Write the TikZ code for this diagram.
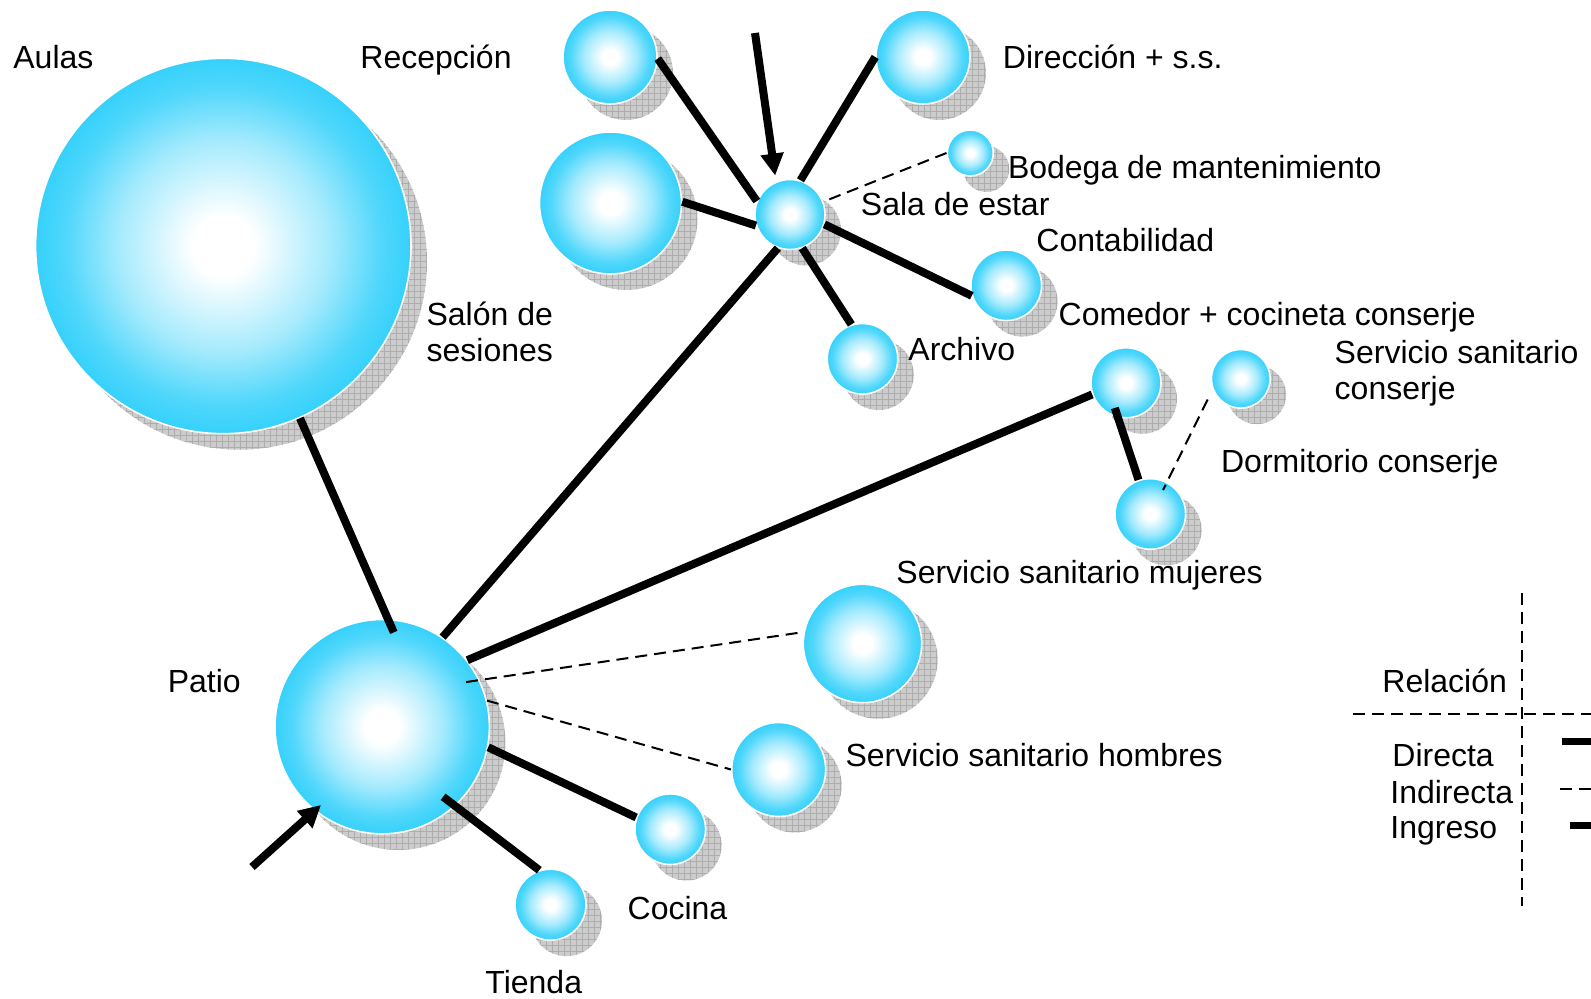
\documentclass[tikz,border=0pt]{standalone}
\usepackage{fontspec}
\setmainfont{Liberation Sans}
\usetikzlibrary{arrows.meta, calc, patterns}
\definecolor{ballcyan}{RGB}{32,204,250}
\pgfdeclareradialshading{sphere}{\pgfpoint{0bp}{0bp}}{color(0bp)=(white); color(4bp)=(white); color(14bp)=(ballcyan!40!white); color(21bp)=(ballcyan!78!white); color(28bp)=(ballcyan); color(50bp)=(ballcyan)}

\begin{document}
\begin{tikzpicture}[
  x=0.5pt, y=-0.5pt,
  >={Triangle[length=11pt, width=11pt]},
  font=\fontsize{16}{18.25}\selectfont,
  ball/.style={circle, shade, shading=sphere, draw=white, line width=0.8pt, inner sep=0pt},
  shadowdisc/.style={fill=black!20, postaction={pattern=grid, pattern color=black!32}},
  direct/.style={line width=4pt},
  indirect/.style={line width=1pt, dash pattern=on 6pt off 3.5pt},
  entry/.style={line width=4pt, ->},
  lbl/.style={anchor=base west, inner sep=0pt, align=left},
]
  \useasboundingbox (0,0) rectangle (1591,999);
  \clip (0,0) rectangle (1591,999);

  % spheres, each with its hatched shadow
  \foreach \name/\x/\y/\r in {aulas/223.3/246/187.7, recep/610/57/47, salon/610.5/203/71,
      sala/790/214.5/35, direc/923/57/47, bodega/970.3/153/23, conta/1006.3/285.3/35.3,
      archivo/862.5/358.8/35.3, comedor/1126/382.8/35, sscons/1240.8/378.8/29.3,
      dormi/1150.3/514/35.3, patio/382.2/726.7/107.2, ssmuj/862.5/643.5/59.2,
      sshom/778.7/769.5/47, cocina/670.3/829.2/35.3, tienda/550.5/904.7/35.5} {
    \fill[shadowdisc] (\x+16, \y+16) circle[radius=\r*0.5pt];
    \node[ball, minimum size=\r*1pt] (\name) at (\x, \y) {};
  }

  \draw[direct] (recep.-2) -- (sala.158);
  \draw[direct] (direc.180) -- (sala.73);
  \draw[indirect] (bodega.180) -- (sala.21);
  \draw[direct] (salon.1) -- (sala.198);
  \draw[direct] (sala.-16) -- (conta.197);
  \draw[direct] (sala.-70) -- (archivo.108);
  \draw[direct] (sala.250) -- (patio.56);
  \draw[direct] (aulas.-66) -- ($(patio)!.88!(patio.83)$);
  \draw[direct] (patio.38) -- (comedor.199);
  \draw[direct] ($(comedor)!.77!(comedor.246)$) -- (dormi.109);
  \draw[indirect] ($(sscons)!1.3!(sscons.212)$) -- ($(dormi)!.75!(dormi.62)$);
  \draw[indirect] ($(patio)!.88!(patio.28)$) -- (ssmuj.169);
  \draw[indirect] (patio.14) -- (sshom.180);
  \draw[direct] (patio.-11) -- (cocina.161);
  \draw[direct] ($(patio)!.86!(patio.-49)$) -- (tienda.108);

  % entrances
  \coordinate (intop) at (755,33);
  \coordinate (inbot) at (252,867);
  \draw[entry, shorten >=3pt] (intop) -- (sala.113);
  \draw[entry] (inbot) -- ($(patio)!.92!(patio.232)$);

  \foreach \name/\x/\y/\txt in {aulas/13/68.5/Aulas, recep/360/69/Recepción,
      direc/1002.5/69/Dirección + s.s., bodega/1007.6/178.4/Bodega de mantenimiento,
      sala/860.5/215.5/Sala de estar, conta/1036/251.5/Contabilidad,
      salon/426.2/362/{Salón de\\sesiones}, comedor/1058.3/325.6/Comedor + cocineta conserje,
      archivo/908/361/Archivo, sscons/1334.3/399.6/{Servicio sanitario\\conserje},
      dormi/1220.7/472.7/Dormitorio conserje, ssmuj/896/583.3/Servicio sanitario mujeres,
      patio/167.4/693/Patio, sshom/845.2/767/Servicio sanitario hombres,
      cocina/627.3/919.3/Cocina, tienda/485/993/Tienda}
    \node[lbl] (\name-t) at (\x, \y) {\txt};

  % legend
  \draw[indirect] (1522,593) -- (1522,906);
  \draw[indirect] (1353,714) -- (1600,714);
  \draw[line width=3.5pt] (1562,742) -- (1600,742);
  \draw[indirect] (1560,789) -- (1600,789);
  \draw[line width=3.5pt] (1570,825) -- (1600,825);
  \foreach \name/\x/\y/\txt in {rel/1382/693/Relación, dir/1392/767/Directa,
      ind/1390/803/Indirecta, ing/1390/838/Ingreso}
    \node[lbl] (\name) at (\x, \y) {\txt};
\end{tikzpicture}
\end{document}
